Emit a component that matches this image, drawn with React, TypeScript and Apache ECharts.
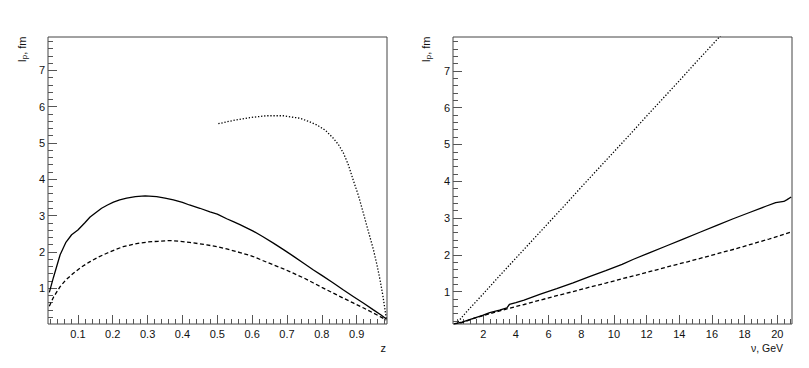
import React, { useEffect, useRef } from "react";
import * as echarts from "echarts";

// ---------- data ----------
// left panel: l_p vs z
const leftSolid: [number, number][] = [
  [0.018, 0.88], [0.03, 1.3], [0.049, 1.92], [0.065, 2.25], [0.082, 2.47], [0.1, 2.6],
  [0.12, 2.8], [0.135, 2.96], [0.15, 3.07], [0.168, 3.2], [0.185, 3.29], [0.202, 3.37],
  [0.22, 3.43], [0.24, 3.48], [0.265, 3.52], [0.293, 3.54], [0.326, 3.52], [0.35, 3.48],
  [0.374, 3.43], [0.4, 3.36], [0.42, 3.29], [0.45, 3.2], [0.479, 3.1], [0.5, 3.04],
  [0.527, 2.91], [0.546, 2.83], [0.565, 2.75], [0.603, 2.57], [0.63, 2.42], [0.661, 2.24],
  [0.69, 2.06], [0.718, 1.88], [0.75, 1.67], [0.776, 1.5], [0.8, 1.35], [0.833, 1.14],
  [0.86, 0.96], [0.89, 0.77], [0.92, 0.58], [0.948, 0.4], [0.97, 0.26], [0.985, 0.15],
];
const leftDashed: [number, number][] = [
  [0.018, 0.5], [0.03, 0.75], [0.049, 1.04], [0.065, 1.22], [0.087, 1.41], [0.11, 1.58],
  [0.135, 1.73], [0.16, 1.86], [0.183, 1.96], [0.21, 2.07], [0.23, 2.14], [0.255, 2.2],
  [0.278, 2.24], [0.3, 2.27], [0.33, 2.29], [0.364, 2.31], [0.39, 2.29], [0.42, 2.26],
  [0.45, 2.22], [0.47, 2.19], [0.5, 2.14], [0.527, 2.08], [0.565, 1.98], [0.603, 1.87],
  [0.63, 1.76], [0.661, 1.64], [0.69, 1.53], [0.718, 1.41], [0.75, 1.27], [0.776, 1.14],
  [0.8, 1.02], [0.833, 0.86], [0.86, 0.73], [0.89, 0.59], [0.92, 0.45], [0.948, 0.31],
  [0.97, 0.2], [0.985, 0.12],
];
const leftDotted: [number, number][] = [
  [0.503, 5.53], [0.546, 5.62], [0.594, 5.7], [0.642, 5.75], [0.689, 5.75], [0.737, 5.68],
  [0.76, 5.6], [0.785, 5.5], [0.81, 5.35], [0.833, 5.13], [0.848, 4.95], [0.862, 4.72],
  [0.876, 4.4], [0.89, 3.98], [0.905, 3.55], [0.919, 3.07], [0.933, 2.58], [0.948, 2.06],
  [0.958, 1.65], [0.967, 1.23], [0.975, 0.8], [0.981, 0.42], [0.985, 0.15],
];

// right panel: l_p vs nu
const rightSolid: [number, number][] = [
  [0.2, 0.12], [0.7, 0.17], [1.4, 0.27], [2.0, 0.36], [2.4, 0.43], [3.0, 0.5], [3.45, 0.56],
  [3.6, 0.65], [4.0, 0.7], [4.5, 0.77], [5.5, 0.93], [6.5, 1.08], [7.5, 1.24], [8.5, 1.41],
  [9.5, 1.57], [10.5, 1.74], [11.2, 1.88], [12.2, 2.06], [13.2, 2.24], [14.2, 2.42],
  [15.3, 2.62], [16.3, 2.8], [17.3, 2.98], [18.3, 3.15], [19.3, 3.32], [19.9, 3.42],
  [20.4, 3.45], [20.6, 3.5], [20.85, 3.57],
];
const rightDashed: [number, number][] = [
  [0.6, 0.14], [1.4, 0.27], [2.4, 0.4], [3.45, 0.53], [4.5, 0.65], [5.5, 0.77], [6.5, 0.89],
  [7.5, 1.0], [8.5, 1.12], [9.5, 1.23], [10.5, 1.35], [11.5, 1.46], [12.5, 1.58], [13.5, 1.7],
  [14.5, 1.81], [15.5, 1.93], [16.5, 2.05], [17.5, 2.17], [18.5, 2.3], [19.5, 2.43],
  [20.9, 2.63],
];
const rightDotted: [number, number][] = [
  [0.45, 0.18], [1, 0.46], [2, 0.94], [3, 1.43], [4, 1.91], [5, 2.39], [6, 2.87], [7, 3.35],
  [8, 3.84], [9, 4.32], [10, 4.8], [11, 5.28], [12, 5.77], [13, 6.25], [14, 6.73],
  [15, 7.22], [16, 7.7], [16.6, 7.99],
];

// axes / tick labels
const leftXTicks = [0.1, 0.2, 0.3, 0.4, 0.5, 0.6, 0.7, 0.8, 0.9];
const leftXLabels = ["0.1", "0.2", "0.3", "0.4", "0.5", "0.6", "0.7", "0.8", "0.9"];
const rightXTicks = [2, 4, 6, 8, 10, 12, 14, 16, 18, 20];
const rightXLabels = ["2", "4", "6", "8", "10", "12", "14", "16", "18", "20"];
const yTicks = [1, 2, 3, 4, 5, 6, 7];
const yLabels = ["1", "2", "3", "4", "5", "6", "7"];
const yTitleMain = "l";
const yTitleSub = "p";
const yTitleRest = ", fm";
const leftXTitle = "z";
const rightXTitle = "ν, GeV";

const LEFT_X = [0.0142, 0.987];
const RIGHT_X = [0.15, 20.9];
const LEFT_Y = [0.01, 7.92];
const RIGHT_Y = [0.12, 7.92];

function minorPositions(lo: number, hi: number, step: number, majors: number[]) {
  const out: number[] = [];
  const n = Math.floor(hi / step + 1e-9);
  for (let i = Math.ceil(lo / step - 1e-9); i <= n; i++) {
    const v = Math.round(i * step * 10000) / 10000;
    if (v <= lo || v >= hi) continue;
    if (majors.some((m) => Math.abs(m - v) < 1e-6)) continue;
    out.push(v);
  }
  return out;
}

const FONT = "'Liberation Sans', Arial, Helvetica, sans-serif";
const TICK_COLOR = "#555";

function labelOf(ticks: number[], labels: string[]) {
  return (v: number) => {
    const i = ticks.findIndex((t) => Math.abs(t - v) < 1e-6);
    return i >= 0 ? labels[i] : "";
  };
}

function majorX(grid: number, range: number[], ticks: number[], labels: string[]) {
  return {
    type: "value",
    gridIndex: grid,
    position: "bottom",
    min: range[0],
    max: range[1],
    axisLine: { show: false },
    splitLine: { show: false },
    axisTick: {
      show: true,
      inside: true,
      length: 9,
      customValues: ticks,
      lineStyle: { color: TICK_COLOR, width: 1 },
    },
    axisLabel: {
      show: true,
      customValues: ticks,
      formatter: labelOf(ticks, labels),
      margin: 4,
      fontSize: 11,
      color: "#111",
      fontFamily: FONT,
      showMinLabel: true,
      showMaxLabel: true,
    },
  };
}

function minorAxis(grid: number, range: number[], ticks: number[], position: string) {
  return {
    type: "value",
    gridIndex: grid,
    position,
    offset: 0,
    min: range[0],
    max: range[1],
    axisLine: { show: false },
    splitLine: { show: false },
    axisTick: {
      show: true,
      inside: true,
      length: 5,
      customValues: ticks,
      lineStyle: { color: TICK_COLOR, width: 1 },
    },
    axisLabel: { show: false },
  };
}

function majorY(grid: number, range: number[]) {
  return {
    type: "value",
    gridIndex: grid,
    position: "left",
    min: range[0],
    max: range[1],
    axisLine: { show: false },
    splitLine: { show: false },
    axisTick: {
      show: true,
      inside: true,
      length: 9,
      customValues: yTicks,
      lineStyle: { color: TICK_COLOR, width: 1 },
    },
    axisLabel: {
      show: true,
      customValues: yTicks,
      formatter: labelOf(yTicks, yLabels),
      margin: 3,
      fontSize: 11,
      color: "#111",
      fontFamily: FONT,
    },
  };
}

function yTitle(x: number) {
  return {
    type: "group",
    x,
    y: 62,
    rotation: Math.PI / 2,
    children: [
      {
        type: "text",
        x: 0,
        y: 0,
        style: { text: yTitleMain, fontSize: 11, fontFamily: FONT, fill: "#111", textAlign: "left", textVerticalAlign: "middle" },
      },
      {
        type: "text",
        x: 2.8,
        y: 2.6,
        style: { text: yTitleSub, fontSize: 8, fontFamily: FONT, fill: "#111", textAlign: "left", textVerticalAlign: "middle" },
      },
      {
        type: "text",
        x: 7.2,
        y: 0,
        style: { text: yTitleRest, fontSize: 11, fontFamily: FONT, fill: "#111", textAlign: "left", textVerticalAlign: "middle" },
      },
    ],
  };
}

function lineSeries(xi: number, yi: number, data: [number, number][], type: any) {
  return {
    type: "line",
    xAxisIndex: xi,
    yAxisIndex: yi,
    data,
    showSymbol: false,
    symbol: "none",
    smooth: false,
    clip: true,
    lineStyle: { color: "#000", width: 1.3, type, cap: "butt" },
    emphasis: { disabled: true },
  };
}

export default function App() {
  const ref = useRef<HTMLDivElement>(null);
  useEffect(() => {
    if (!ref.current) return;
    const chart = echarts.init(ref.current, undefined, { renderer: "svg" });
    const yMinor = minorPositions(0, 8, 0.2, yTicks);
    const option: any = {
      animation: false,
      backgroundColor: "#fff",
      grid: [
        { left: 48, top: 37, width: 339, height: 287, show: true, borderColor: "#444", borderWidth: 1, backgroundColor: "transparent" },
        { left: 453, top: 37, width: 339, height: 287, show: true, borderColor: "#444", borderWidth: 1, backgroundColor: "transparent" },
      ],
      xAxis: [
        majorX(0, LEFT_X, leftXTicks, leftXLabels),
        minorAxis(0, LEFT_X, minorPositions(LEFT_X[0], LEFT_X[1], 0.02, leftXTicks), "bottom"),
        majorX(1, RIGHT_X, rightXTicks, rightXLabels),
        minorAxis(1, RIGHT_X, minorPositions(RIGHT_X[0], RIGHT_X[1], 0.4, rightXTicks), "bottom"),
      ],
      yAxis: [
        majorY(0, LEFT_Y),
        minorAxis(0, LEFT_Y, yMinor.filter((v) => v > LEFT_Y[0] && v < LEFT_Y[1]), "left"),
        majorY(1, RIGHT_Y),
        minorAxis(1, RIGHT_Y, yMinor.filter((v) => v > RIGHT_Y[0] && v < RIGHT_Y[1]), "left"),
      ],
      series: [
        lineSeries(0, 0, leftSolid, "solid"),
        lineSeries(0, 0, leftDashed, [4, 2.5]),
        lineSeries(0, 0, leftDotted, [1.3, 1.8]),
        lineSeries(2, 2, rightSolid, "solid"),
        lineSeries(2, 2, rightDashed, [4, 2.5]),
        lineSeries(2, 2, rightDotted, [1.3, 1.8]),
      ],
      graphic: [
        yTitle(21.8),
        yTitle(426.2),
        {
          type: "text",
          x: 386,
          y: 348,
          style: { text: leftXTitle, fontSize: 11, fontFamily: FONT, fill: "#111", textAlign: "right", textVerticalAlign: "middle" },
        },
        {
          type: "text",
          x: 783,
          y: 348,
          style: { text: rightXTitle, fontSize: 10.5, fontFamily: FONT, fill: "#111", textAlign: "right", textVerticalAlign: "middle" },
        },
      ],
    };
    chart.setOption(option);
    return () => chart.dispose();
  }, []);
  return (
    <div
      ref={ref}
      style={{ position: "fixed", left: 0, top: 0, width: 809, height: 368, background: "#fff" }}
    />
  );
}
